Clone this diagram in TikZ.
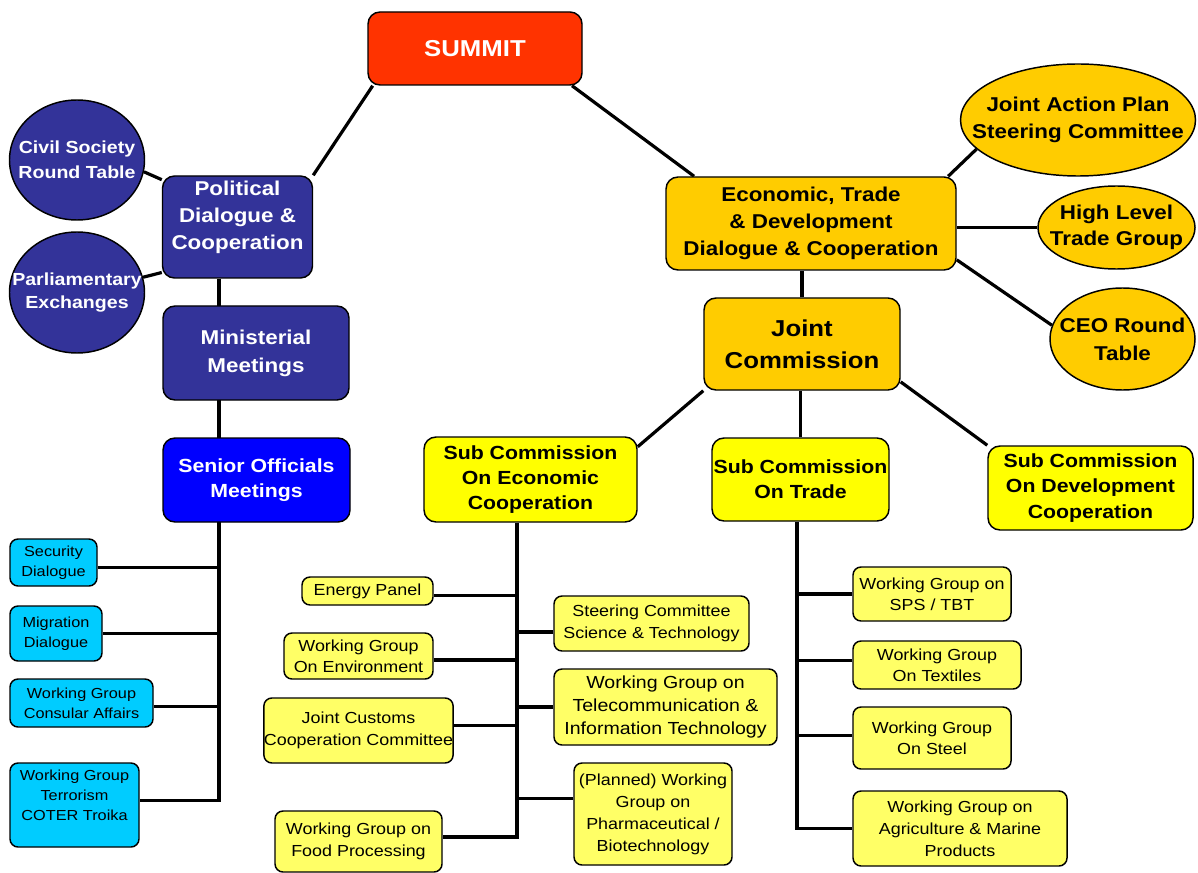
\documentclass[tikz,border=0pt]{standalone}
\usepackage{fontspec}
\setmainfont{Liberation Sans}[FakeStretch=1.12]
\usetikzlibrary{shapes.geometric,backgrounds}
\definecolor{summitred}{RGB}{255,51,0}
\definecolor{pdblue}{RGB}{51,51,153}
\definecolor{senblue}{RGB}{0,0,255}
\definecolor{skycyan}{RGB}{0,204,255}
\definecolor{etgold}{RGB}{255,204,0}
\definecolor{subyellow}{RGB}{255,255,0}
\definecolor{paleyellow}{RGB}{255,255,102}

\begin{document}
\begin{tikzpicture}[x=0.75pt,y=0.75pt,yscale=-1,xscale=1,
 box/.style={draw=black,line width=1.1pt,rounded corners=9pt,inner sep=0pt,align=center},
 oval/.style={draw=black,line width=1.1pt,ellipse,inner sep=0pt},
 ovaltext/.style={align=center,inner sep=0pt,font=\bfseries\fontsize{15}{20.25}\selectfont},
 cyanbox/.style={box,rounded corners=6pt,fill=skycyan,font=\fontsize{10.9}{15}\selectfont},
 wgbox/.style={box,rounded corners=6pt,fill=paleyellow,font=\fontsize{12}{16}\selectfont},
 subbox/.style={box,fill=subyellow,font=\bfseries\fontsize{14.25}{19}\selectfont},
 link/.style={line width=2.4pt}
]
\useasboundingbox (0,0) rectangle (1198,873);

%Shape: Rounded Rect [summit]
\node[box,fill=summitred,text=white,minimum width=160.5pt,minimum height=54.75pt,font=\bfseries\fontsize{17.25}{20}\selectfont] (summit) at (475,48.5) {SUMMIT};

%Shape: Rounded Rect [political side]
\node[box,fill=pdblue,text=white,minimum width=112.5pt,minimum height=76.5pt,text depth=18pt,font=\bfseries\fontsize{15}{20.25}\selectfont] (political) at (237.5,227) {Political\\Dialogue \&\\Cooperation};
\node[box,fill=pdblue,text=white,minimum width=139.5pt,minimum height=70.5pt,font=\bfseries\fontsize{15}{21}\selectfont] (minist) at (256,353) {Ministerial\\Meetings};
\node[box,fill=senblue,text=white,minimum width=140.25pt,minimum height=63pt,font=\bfseries\fontsize{14.25}{18.75}\selectfont] (senior) at (256.5,480) {Senior Officials\\Meetings};
%Shape: Ellipse
\node[oval,fill=pdblue,minimum width=101.25pt,minimum height=90pt] (civil) at (77,160) {};
\node[oval,fill=pdblue,minimum width=101.25pt,minimum height=90.75pt] (parl) at (77,292.5) {};
% Text Node
\node[ovaltext,text=white,font=\bfseries\fontsize{13.1}{18.75}\selectfont] (civiltext) at (civil) {Civil Society\\Round Table};
% Text Node
\node[ovaltext,text=white,font=\bfseries\fontsize{13.1}{17.5}\selectfont] (parltext) at (parl) {Parliamentary\\Exchanges};

%Shape: Rounded Rect [cyan]
\node[cyanbox,minimum width=65.25pt,minimum height=35.25pt] (secur) at (53.5,562.5) {Security\\Dialogue};
\node[cyanbox,minimum width=69pt,minimum height=41.25pt] (migr) at (56,633.5) {Migration\\Dialogue};
\node[cyanbox,minimum width=107.25pt,minimum height=36pt] (consul) at (81.5,703) {Working Group\\Consular Affairs};
\node[cyanbox,minimum width=96.75pt,minimum height=63pt,text depth=15pt] (terror) at (74.5,805) {Working Group\\Terrorism\\COTER Troika};

%Shape: Rounded Rect [economic side]
\node[box,fill=etgold,minimum width=217.5pt,minimum height=69.75pt,font=\bfseries\fontsize{15}{20.25}\selectfont] (econ) at (811,223.5) {Economic, Trade\\\& Development\\Dialogue \& Cooperation};
\node[box,fill=etgold,minimum width=147pt,minimum height=69pt,font=\bfseries\fontsize{17.25}{24}\selectfont] (joint) at (802,344) {Joint\\Commission};
%Shape: Ellipse
\node[oval,fill=etgold,minimum width=176.25pt,minimum height=84pt] (jap) at (1078,120) {};
\node[oval,fill=etgold,minimum width=117.75pt,minimum height=62.25pt] (hltg) at (1116.5,227.5) {};
\node[oval,fill=etgold,minimum width=108.75pt,minimum height=76.5pt] (ceo) at (1122.5,339) {};
% Text Node
\node[ovaltext] (japtext) at (jap) {Joint Action Plan\\Steering Committee};
% Text Node
\node[ovaltext,font=\bfseries\fontsize{15}{19.5}\selectfont] (hltgtext) at (hltg) {High Level\\Trade Group};
% Text Node
\node[ovaltext,font=\bfseries\fontsize{15}{21}\selectfont] (ceotext) at (ceo) {CEO Round\\Table};

%Shape: Rounded Rect [sub commissions]
\node[subbox,minimum width=159.75pt,minimum height=63.75pt] (subecon) at (530.5,479.5) {Sub Commission\\On Economic\\Cooperation};
\node[subbox,minimum width=132.75pt,minimum height=62.25pt] (subtrade) at (800.5,479.5) {Sub Commission\\On Trade};
\node[subbox,minimum width=153.75pt,minimum height=63pt] (subdev) at (1090.5,488) {Sub Commission\\On Development\\Cooperation};

%Shape: Rounded Rect [working groups, economic]
\node[wgbox,minimum width=98.25pt,minimum height=21pt] (energy) at (367.5,591) {Energy Panel};
\node[wgbox,minimum width=111.75pt,minimum height=34.5pt] (env) at (358.5,656) {Working Group\\On Environment};
\node[wgbox,minimum width=140.25pt,minimum height=48.75pt] (customs) at (358.5,730.5) {Joint Customs\\Cooperation Committee};
\node[wgbox,minimum width=125.25pt,minimum height=45.75pt] (food) at (358.5,841.5) {Working Group on\\Food Processing};
\node[wgbox,minimum width=146.25pt,minimum height=41.25pt] (scitech) at (651.5,623.5) {Steering Committee\\Science \& Technology};
\node[wgbox,minimum width=167.25pt,minimum height=57pt,font=\fontsize{13.1}{17.25}\selectfont] (telecom) at (665.5,707) {Working Group on\\Telecommunication \&\\Information Technology};
\node[wgbox,minimum width=118.5pt,minimum height=76.5pt,font=\fontsize{12}{16.5}\selectfont] (pharma) at (653,814) {(Planned) Working\\Group on\\Pharmaceutical /\\Biotechnology};

%Shape: Rounded Rect [working groups, trade]
\node[wgbox,minimum width=118.5pt,minimum height=40.5pt] (sps) at (932,594) {Working Group on\\SPS / TBT};
\node[wgbox,minimum width=126pt,minimum height=36pt] (textile) at (937,665) {Working Group\\On Textiles};
\node[wgbox,minimum width=118.5pt,minimum height=46.5pt] (steel) at (932,738) {Working Group\\On Steel};
\node[wgbox,minimum width=160.5pt,minimum height=56.25pt,font=\fontsize{12}{16.5}\selectfont] (agri) at (960,828.5) {Working Group on\\Agriculture \& Marine\\Products};

%Trunk positions
\coordinate (pdtrunk) at (219,278);
\coordinate (ectrunk) at (517,522);
\coordinate (trtrunk) at (797,521);

\begin{scope}[on background layer]
%Straight Lines
\draw[link] (summit.200) -- (political.north east);
\draw[link] (summit.-21) -- (econ.158);
\draw[link] (civil.-10) -- (political.148);
\draw[link] (parl.13) -- (political.211);
\draw[link] (econ.19) -- (jap.196);
\draw[link] (hltg.west) -- (hltg.west -| econ.east);
\draw[link] (econ.-14) -- (ceo.169);
\draw[link] (joint.north) -- (joint.north |- econ.south);
\draw[link] (joint.south west) -- (subecon.17);
\draw[link] (subtrade.north) -- (subtrade.north |- joint.south);
\draw[link] (joint.-21) -- (subdev.north west);
%Straight Lines [political trunk]
\draw[link] (pdtrunk |- political.south) -- (pdtrunk |- terror.4) -- (terror.4);
\draw[link] (secur.-6) -- (secur.-6 -| pdtrunk);
\draw[link] (migr.east) -- (migr.east -| pdtrunk);
\draw[link] (consul.-3) -- (consul.-3 -| pdtrunk);
%Straight Lines [economic trunk]
\draw[link] (ectrunk |- subecon.south) -- (ectrunk |- food.3) -- (food.3);
\draw[link] (energy.-4) -- (energy.-4 -| ectrunk);
\draw[link] (env.-3) -- (env.-3 -| ectrunk);
\draw[link] (customs.3) -- (customs.3 -| ectrunk);
\draw[link] (scitech.185) -- (scitech.185 -| ectrunk);
\draw[link] (telecom.west) -- (telecom.west -| ectrunk);
\draw[link] (pharma.169) -- (pharma.169 -| ectrunk);
%Straight Lines [trade trunk]
\draw[link] (trtrunk |- subtrade.south) -- (trtrunk |- agri.west) -- (agri.west);
\draw[link] (sps.west) -- (sps.west -| trtrunk);
\draw[link] (textile.177) -- (textile.177 -| trtrunk);
\draw[link] (steel.178) -- (steel.178 -| trtrunk);
\end{scope}

\end{tikzpicture}
\end{document}
